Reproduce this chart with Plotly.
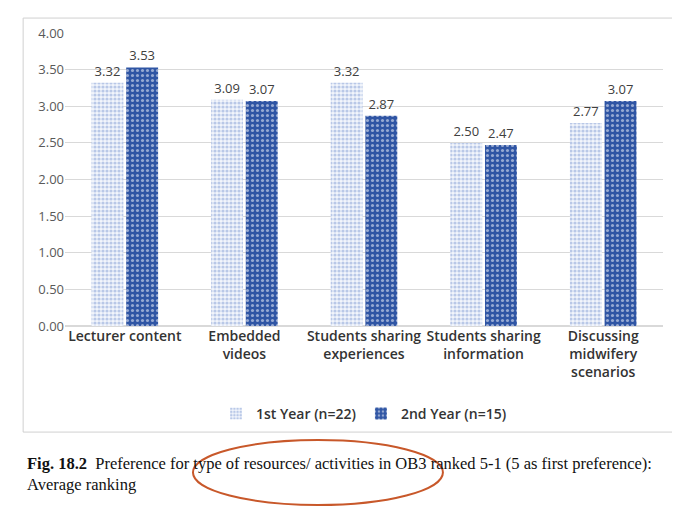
import plotly.graph_objects as go

categories = ["Lecturer content", "Embedded<br>videos", "Students sharing<br>experiences",
              "Students sharing<br>information", "Discussing<br>midwifery<br>scenarios"]
first_year = [3.32, 3.09, 3.32, 2.50, 2.77]
second_year = [3.53, 3.07, 2.87, 2.47, 3.07]

fig = go.Figure()
fig.add_trace(go.Bar(
    x=categories, y=first_year, name="1st Year (n=22)",
    text=[f"{v:.2f}" for v in first_year], textposition="outside",
    textfont=dict(color="#404040", size=13),
    marker=dict(color="white", line=dict(width=0),
                pattern=dict(shape=".", fgcolor="#7f9bd3", bgcolor="#f2f5fb", size=4, solidity=0.5))))
fig.add_trace(go.Bar(
    x=categories, y=second_year, name="2nd Year (n=15)",
    text=[f"{v:.2f}" for v in second_year], textposition="outside",
    textfont=dict(color="#404040", size=13),
    marker=dict(color="#2f55a4", line=dict(width=0),
                pattern=dict(shape=".", fgcolor="white", bgcolor="#2f55a4", size=5, solidity=0.3))))

fig.update_layout(
    width=680, height=510, plot_bgcolor="white", paper_bgcolor="white",
    margin=dict(l=57, r=25, t=25, b=192),
    font=dict(family="Open Sans", color="#404040", size=13),
    barmode="group", bargap=0.42, bargroupgap=0.08,
    yaxis=dict(range=[0, 4], tickformat=".2f", dtick=0.5, showgrid=True,
               gridcolor="#d9d9d9", zeroline=True, zerolinecolor="#d9d9d9",
               tickfont=dict(size=13, color="#595959")),
    xaxis=dict(tickfont=dict(size=14, color="#333333", weight=600), showline=False),
    legend=dict(orientation="h", x=0.5, xanchor="center", y=-0.3, yanchor="middle",
                font=dict(size=14, color="#333333", weight=600)),
    showlegend=True,
)

fig.add_shape(type="rect", xref="paper", yref="paper", x0=-0.07, x1=1.022, y0=-0.362, y1=1.051,
              line=dict(color="#d0d0d0", width=1))
fig.add_shape(type="circle", xref="paper", yref="paper", x0=0.214, x1=0.632, y0=-0.611, y1=-0.389,
              line=dict(color="#c8582a", width=2))
fig.add_annotation(
    xref="paper", yref="paper", x=-0.067, y=-0.43, xanchor="left", yanchor="top",
    showarrow=False, align="left",
    font=dict(family="Liberation Serif", size=16.5, color="#111111"),
    text="<b>Fig. 18.2</b>  Preference for type of resources/ activities in OB3 ranked 5-1 (5 as first preference):<br>Average ranking")

fig.write_html("out.html")
